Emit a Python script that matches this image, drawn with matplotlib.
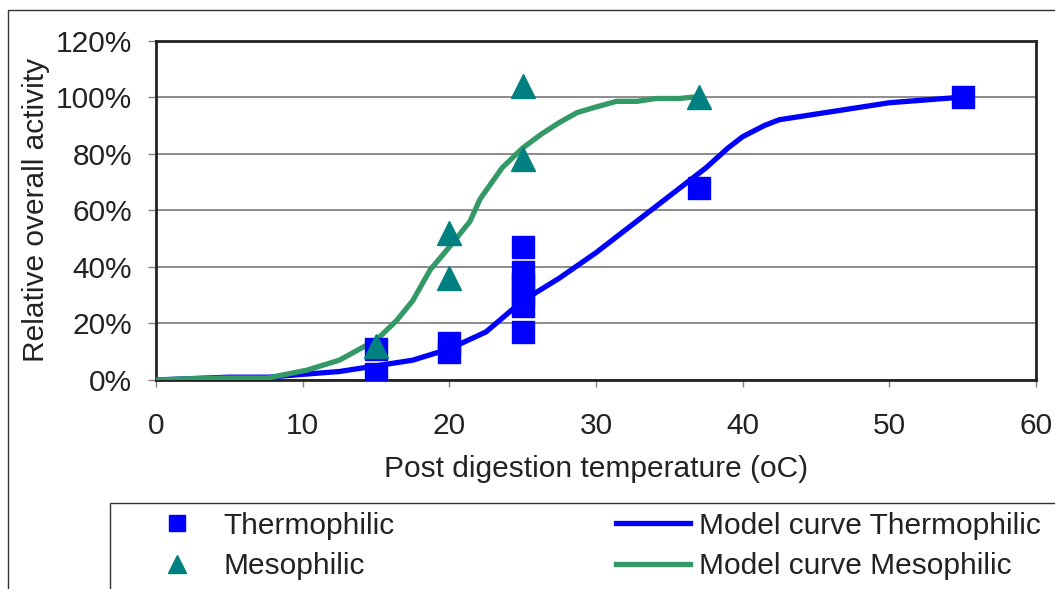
import matplotlib
matplotlib.use("Agg")
import matplotlib.pyplot as plt
from matplotlib.lines import Line2D
from matplotlib.patches import Rectangle
from matplotlib.ticker import FuncFormatter

# Données mesurées
thermo_x = [15, 15, 20, 20, 25, 25, 25, 25, 25, 25, 37, 55]
thermo_y = [0.11, 0.02, 0.13, 0.10, 0.47, 0.38, 0.34, 0.30, 0.26, 0.17, 0.68, 1.00]
meso_x = [15, 20, 20, 25, 25, 37]
meso_y = [0.12, 0.52, 0.36, 1.04, 0.78, 1.00]

# Courbes modèle
model_thermo_x = [0, 2.5, 5, 7.7, 10, 12.5, 15, 17.5, 20, 22.5, 25, 27.5, 30, 32.5, 35, 37.5,
                  39, 40, 41.5, 42.5, 45, 47.5, 50, 52.5, 55]
model_thermo_y = [0, 0.005, 0.01, 0.01, 0.02, 0.03, 0.05, 0.07, 0.11, 0.17, 0.28, 0.36, 0.45,
                  0.55, 0.65, 0.75, 0.82, 0.86, 0.90, 0.92, 0.94, 0.96, 0.98, 0.99, 1.00]
model_meso_x = [0, 2.5, 5, 7.6, 10.3, 12.5, 13.9, 15, 16.4, 17.5, 18.7, 20, 21.4, 22.1, 23.6,
                25, 26.3, 27.5, 28.7, 30, 31.4, 32.8, 34.1, 35.7, 36.6]
model_meso_y = [0, 0.005, 0.007, 0.007, 0.035, 0.07, 0.11, 0.14, 0.21, 0.28, 0.39, 0.47, 0.56,
                0.64, 0.75, 0.82, 0.87, 0.91, 0.945, 0.965, 0.985, 0.985, 0.995, 0.995, 1.00]

x_ticks = [0, 10, 20, 30, 40, 50, 60]
y_ticks = [0, 0.2, 0.4, 0.6, 0.8, 1.0, 1.2]

blue = "#0000FF"
teal = "#008080"
green = "#339966"

plt.rcParams['font.family'] = ['Liberation Sans', 'DejaVu Sans']
fs = 21.5

W, H = 1055, 589
fig = plt.figure(figsize=(W / 100, H / 100), dpi=100)
ax = fig.add_axes([156 / W, 1 - 380 / H, (1036 - 156) / W, (380 - 40.5) / H])

ax.plot(model_thermo_x, model_thermo_y, color=blue, lw=3.8, zorder=3,
        solid_capstyle="round", solid_joinstyle="round")
ax.plot(model_meso_x, model_meso_y, color=green, lw=3.8, zorder=3,
        solid_capstyle="round", solid_joinstyle="round")
ax.plot(thermo_x, thermo_y, ls="none", marker="s", ms=15.5, color=blue, zorder=4)
ax.plot(meso_x, meso_y, ls="none", marker="^", ms=17, color=teal, zorder=5)

ax.set_xlim(0, 60)
ax.set_ylim(0, 1.2)
ax.set_xticks(x_ticks)
ax.set_yticks(y_ticks)
ax.yaxis.set_major_formatter(FuncFormatter(lambda v, p: f"{v * 100:.0f}%"))
ax.grid(axis="y", color="#6e6e6e", lw=1.1)
ax.set_axisbelow(True)
for s in ax.spines.values():
    s.set_color("#222222")
    s.set_linewidth(2)
ax.tick_params(axis="x", direction="out", length=5, width=1, color="#808080",
               labelsize=fs, pad=18, labelcolor="#222222")
ax.tick_params(axis="y", direction="out", length=6, width=1, color="#808080",
               labelsize=fs, pad=11, labelcolor="#222222")
ax.set_xlabel("Post digestion temperature (oC)", fontsize=fs, color="#222222", labelpad=11)
ax.set_ylabel("Relative overall activity", fontsize=fs, color="#222222", labelpad=4)

# Cadre extérieur et cadre de la légende
fig.patches.append(Rectangle((8 / W, -0.1), 1.2, 1 - 10 / H + 0.1, transform=fig.transFigure,
                             fill=False, edgecolor="#333333", lw=1))
fig.patches.append(Rectangle((110 / W, -0.1), 1.2, 1 - 503 / H + 0.1, transform=fig.transFigure,
                             fill=False, edgecolor="#333333", lw=1))

handles = [
    Line2D([], [], ls="none", marker="s", ms=11, color=blue, label="Thermophilic"),
    Line2D([], [], ls="none", marker="^", ms=13, color=teal, label="Mesophilic"),
    Line2D([], [], color=blue, lw=3.8, label="Model curve Thermophilic"),
    Line2D([], [], color=green, lw=3.8, label="Model curve Mesophilic"),
]
leg = fig.legend(handles=handles, ncol=2, loc="upper left",
                 bbox_to_anchor=(128 / W, 1 - 500 / H), frameon=False,
                 fontsize=fs, handlelength=2.5, handletextpad=0.3,
                 columnspacing=7.4, labelspacing=0.42, borderaxespad=0)
for t in leg.get_texts():
    t.set_color("#222222")

fig.savefig("out.png", dpi=100)
